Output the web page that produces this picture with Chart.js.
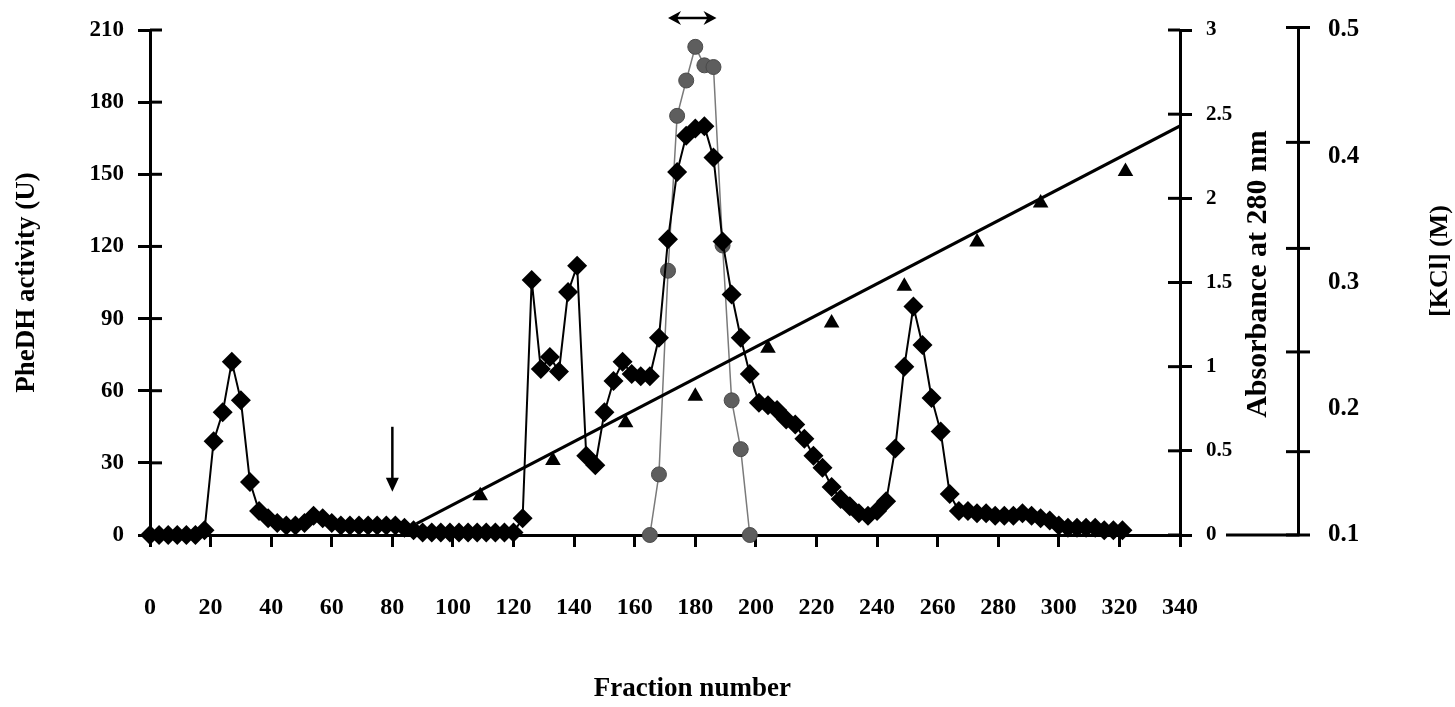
<!DOCTYPE html>
<html>
<head>
<meta charset="utf-8">
<title>PheDH elution profile</title>
<script src="https://cdn.jsdelivr.net/npm/chart.js@4.4.1/dist/chart.umd.min.js"></script>
<style>
  html, body { margin: 0; padding: 0; background: #ffffff; }
  canvas { display: block; }
</style>
</head>
<body>
<canvas id="elution" width="1455" height="707"></canvas>
<script>
/* ---- activity (diamonds, left axis) ---- */
const activityFractions = [
  0, 3, 6, 9, 12, 15, 18, 21, 24, 27, 30, 33, 36, 39, 42, 45, 48, 51,
  54, 57, 60, 63, 66, 69, 72, 75, 78, 81, 84, 87, 90, 93, 96, 99, 102, 105,
  108, 111, 114, 117, 120, 123, 126, 129, 132, 135, 138, 141, 144, 147, 150, 153,
  156, 159, 162, 165, 168, 171, 174, 177, 180, 183, 186, 189, 192, 195, 198, 201,
  204, 207, 210, 213, 216, 219, 222, 225, 228, 231, 234, 237, 240, 243, 246, 249,
  252, 255, 258, 261, 264, 267, 270, 273, 276, 279, 282, 285, 288, 291, 294, 297,
  300, 303, 306, 309, 312, 315, 318, 321
];
const activityUnits = [
  0, 0, 0, 0, 0, 0, 2, 39, 51, 72, 56, 22, 10, 7, 5, 4, 4, 5,
  8, 7, 5, 4, 4, 4, 4, 4, 4, 4, 3, 2, 1, 1, 1, 1, 1, 1,
  1, 1, 1, 1, 1, 7, 106, 69, 74, 68, 101, 112, 33, 29, 51, 64,
  72, 67, 66, 66, 82, 123, 151, 166, 169, 170, 157, 122, 100, 82, 67, 55,
  54, 52, 48, 46, 40, 33, 28, 20, 15, 12, 9, 8, 10, 14, 36, 70,
  95, 79, 57, 43, 17, 10, 10, 9, 9, 8, 8, 8, 9, 8, 7, 6,
  4, 3, 3, 3, 3, 2, 2, 2
];

/* ---- protein (grey circles, absorbance axis) ---- */
const a280Fractions = [165, 168, 171, 174, 177, 180, 183, 186, 189, 192, 195, 198];
const a280Values = [0, 0.36, 1.57, 2.49, 2.70, 2.90, 2.79, 2.78, 1.72, 0.80, 0.51, 0];

/* ---- measured KCl (triangles) and programmed gradient (line) ---- */
const kclFractions = [109, 133, 157, 180, 204, 225, 249, 273, 294, 322];
const kclMolar = [0.131, 0.159, 0.189, 0.210, 0.248, 0.268, 0.297, 0.332, 0.363, 0.388];
const gradientFractions = [88, 340];
const gradientMolar = [0.109, 0.424];

/* ---- axes ---- */
const activityTicks = { min: 0, max: 210, step: 30 };
const absorbanceTicks = { min: 0, max: 3, step: 0.5 };
const kclTicks = { min: 0.1, max: 0.5, step: 0.1 };
const kclTickMarks = [0.1, 0.166, 0.245, 0.327, 0.411, 0.502];
const fractionTicks = { min: 0, max: 340, step: 20 };

/* ---- annotations ---- */
const loadFraction = 80;           // sample applied
const loadArrowUnits = [45, 18];   // arrow from / to, in U
const pooledFractions = [171, 187];

const INK = '#000000';
const SERIF = '"Liberation Serif", "Times New Roman", serif';

Chart.defaults.font.family = SERIF;
Chart.defaults.font.weight = 'bold';
Chart.defaults.color = INK;

function pairs(xs, ys) {
  return xs.map((x, i) => ({ x: x, y: ys[i] }));
}

function fixedWidth(w) {
  return scale => { scale.width = w; };
}

function line(ctx, x1, y1, x2, y2) {
  ctx.beginPath();
  ctx.moveTo(x1, y1);
  ctx.lineTo(x2, y2);
  ctx.stroke();
}

function uprightText(ctx, text, size, x, y) {
  ctx.save();
  ctx.font = 'bold ' + size + 'px ' + SERIF;
  ctx.translate(x, y);
  ctx.rotate(-Math.PI / 2);
  ctx.fillText(text, 0, 0);
  ctx.restore();
}

/* inner halves of the crossing ticks, the KCl axis, titles, arrows */
const decorations = {
  id: 'decorations',
  afterDraw(chart) {
    const { ctx, chartArea, scales } = chart;
    const yA = scales.y, yB = scales.abs, yK = scales.kcl, xS = scales.x;

    ctx.save();
    ctx.strokeStyle = INK;
    ctx.fillStyle = INK;
    ctx.lineWidth = 3;
    ctx.lineCap = 'butt';

    yA.ticks.forEach(t => {
      const py = yA.getPixelForValue(t.value);
      line(ctx, chartArea.left, py, chartArea.left + 12, py);
    });
    yB.ticks.forEach(t => {
      const py = yB.getPixelForValue(t.value);
      line(ctx, chartArea.right - 12, py, chartArea.right, py);
    });

    // KCl axis: its own tick marks and the short foot line
    kclTickMarks.forEach(v => {
      const py = yK.getPixelForValue(v);
      line(ctx, yK.left - 12, py, yK.left + 12, py);
    });
    line(ctx, yK.left - 72, chartArea.bottom, yK.left + 1.5, chartArea.bottom);

    // titles
    ctx.textAlign = 'center';
    ctx.textBaseline = 'middle';
    uprightText(ctx, 'Absorbance at 280 nm', 30, yB.right - 40, yB.getPixelForValue(1.55));
    uprightText(ctx, '[KCl] (M)', 26, yK.right - 15, yK.getPixelForValue(0.317));
    ctx.font = 'bold 27px ' + SERIF;
    ctx.fillText('Fraction number', xS.getPixelForValue(179), xS.bottom - 18);

    // sample load arrow
    const ax = xS.getPixelForValue(loadFraction);
    const a0 = yA.getPixelForValue(loadArrowUnits[0]);
    const a1 = yA.getPixelForValue(loadArrowUnits[1]);
    ctx.lineWidth = 2.5;
    line(ctx, ax, a0, ax, a1 - 12);
    ctx.beginPath();
    ctx.moveTo(ax - 6.5, a1 - 14);
    ctx.lineTo(ax + 6.5, a1 - 14);
    ctx.lineTo(ax, a1);
    ctx.closePath();
    ctx.fill();

    // pooled fractions
    const p0 = xS.getPixelForValue(pooledFractions[0]);
    const p1 = xS.getPixelForValue(pooledFractions[1]);
    const py = chartArea.top - 12;
    ctx.lineWidth = 2.5;
    line(ctx, p0 + 4, py, p1 - 4, py);
    ctx.beginPath();
    ctx.moveTo(p0, py);
    ctx.lineTo(p0 + 13, py - 7);
    ctx.lineTo(p0 + 9, py);
    ctx.lineTo(p0 + 13, py + 7);
    ctx.closePath();
    ctx.fill();
    ctx.beginPath();
    ctx.moveTo(p1, py);
    ctx.lineTo(p1 - 13, py - 7);
    ctx.lineTo(p1 - 9, py);
    ctx.lineTo(p1 - 13, py + 7);
    ctx.closePath();
    ctx.fill();

    ctx.restore();
  }
};

const axisGrid = {
  drawOnChartArea: false,
  drawTicks: true,
  tickLength: 12,
  color: INK,
  lineWidth: 3
};
const axisBorder = { display: true, color: INK, width: 3 };

new Chart(document.getElementById('elution'), {
  type: 'scatter',
  data: {
    datasets: [
      {
        label: 'PheDH activity',
        data: pairs(activityFractions, activityUnits),
        yAxisID: 'y',
        showLine: true,
        borderColor: INK,
        borderWidth: 2,
        pointStyle: 'rectRot',
        pointRadius: 10,
        pointBackgroundColor: INK,
        pointBorderColor: INK,
        pointBorderWidth: 0,
        clip: false
      },
      {
        label: 'KCl',
        data: pairs(kclFractions, kclMolar),
        yAxisID: 'kcl',
        showLine: false,
        pointStyle: 'triangle',
        pointRadius: 9,
        pointBackgroundColor: INK,
        pointBorderColor: INK,
        pointBorderWidth: 0
      },
      {
        label: 'gradient',
        data: pairs(gradientFractions, gradientMolar),
        yAxisID: 'kcl',
        showLine: true,
        borderColor: INK,
        borderWidth: 3,
        pointRadius: 0
      },
      {
        label: 'A280',
        data: pairs(a280Fractions, a280Values),
        yAxisID: 'abs',
        showLine: true,
        borderColor: '#7a7a7a',
        borderWidth: 1.5,
        pointStyle: 'circle',
        pointRadius: 7.5,
        pointBackgroundColor: '#5e5e5e',
        pointBorderColor: '#4a4a4a',
        pointBorderWidth: 1,
        clip: false
      }
    ]
  },
  options: {
    responsive: false,
    devicePixelRatio: 1,
    animation: false,
    layout: { padding: { top: 30, left: 0, right: 0, bottom: 0 } },
    plugins: {
      legend: { display: false },
      tooltip: { enabled: false }
    },
    scales: {
      x: {
        type: 'linear',
        position: 'bottom',
        min: fractionTicks.min,
        max: fractionTicks.max,
        grid: axisGrid,
        border: axisBorder,
        afterFit: scale => { scale.height = 172; },
        ticks: {
          stepSize: fractionTicks.step,
          padding: 46,
          maxRotation: 0,
          autoSkip: false,
          font: { size: 24, weight: 'bold' }
        }
      },
      y: {
        type: 'linear',
        position: 'left',
        min: activityTicks.min,
        max: activityTicks.max,
        grid: axisGrid,
        border: axisBorder,
        afterFit: fixedWidth(150),
        ticks: {
          stepSize: activityTicks.step,
          padding: 14,
          font: { size: 23, weight: 'bold' }
        },
        title: {
          display: true,
          text: 'PheDH activity (U)',
          font: { size: 27, weight: 'bold' },
          padding: { top: 11, bottom: 0 }
        }
      },
      abs: {
        type: 'linear',
        position: 'right',
        min: absorbanceTicks.min,
        max: absorbanceTicks.max,
        grid: axisGrid,
        border: axisBorder,
        afterFit: fixedWidth(118),
        ticks: {
          stepSize: absorbanceTicks.step,
          padding: 14,
          font: { size: 21, weight: 'bold' },
          callback: v => String(v)
        }
      },
      kcl: {
        type: 'linear',
        position: 'right',
        min: kclTicks.min,
        max: kclTicks.max,
        grid: {
          drawOnChartArea: false,
          drawTicks: true,
          tickLength: 22,
          color: 'rgba(0,0,0,0)'
        },
        border: axisBorder,
        afterFit: fixedWidth(157),
        ticks: {
          stepSize: kclTicks.step,
          padding: 8,
          font: { size: 25, weight: 'bold' },
          callback: v => v.toFixed(1)
        }
      }
    }
  },
  plugins: [decorations]
});
</script>
</body>
</html>
